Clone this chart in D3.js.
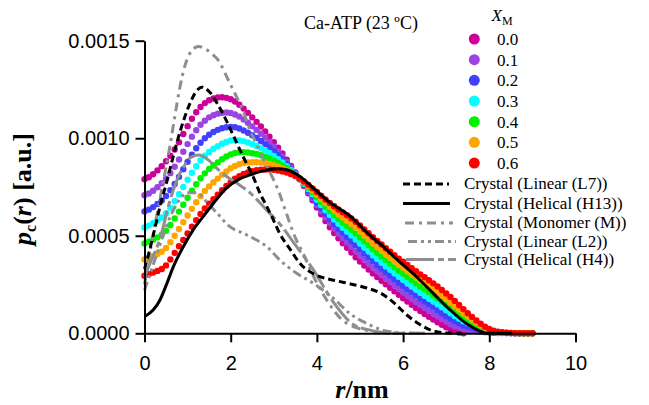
<!DOCTYPE html>
<html>
<head>
<meta charset="utf-8">
<script src="https://cdn.jsdelivr.net/npm/d3@7"></script>
<style>
  html, body { margin: 0; padding: 0; background: #fff; }
  svg { display: block; }
</style>
</head>
<body>
<svg id="chart" width="649" height="405"></svg>
<script>
// p_c(r) of Ca-ATP at 23 ºC for monomer fractions X_M = 0.0 ... 0.6,
// compared with profiles computed from crystal models.
// All p_c(r) values below are in units of 1e-6 (a.u.); r is in nm.

const rStep = 0.1;        // spacing of the sampled r grid (nm)
const yUnit = 1e-6;       // unit of the stored p_c values

const xmLabels = ["0.0", "0.1", "0.2", "0.3", "0.4", "0.5", "0.6"];

const xm00 = [790,800,815,835,857,882,910,942,980,1022,1062,1100,1133,1160,1180,1195,1204,1209,1210,1207,
  1200,1188,1172,1152,1130,1107,1084,1060,1035,1008,980,952,922,890,858,825,790,755,718,682,
  645,610,576,544,514,487,462,438,414,390,368,347,327,307,288,269,251,233,215,197,
  180,163,146,130,114,99,85,71,57,44,31,19,10,4,0];
const xm01 = [708,717,731,749,769,793,821,854,891,931,970,1008,1041,1069,1090,1107,1118,1126,1131,1132,
  1129,1122,1111,1096,1079,1061,1043,1023,1003,980,956,932,907,879,851,822,791,759,725,692,
  658,626,594,565,537,512,488,466,443,420,399,378,358,338,319,300,282,264,246,228,
  211,194,177,161,145,130,116,102,88,74,60,47,36,28,21,17,14,11,8,6,
  4,2,1,1,1,0,0,0,0,0,0];
const xm02 = [625,634,647,663,681,704,733,765,802,841,879,915,949,977,1000,1018,1032,1043,1051,1056,
  1058,1056,1050,1040,1028,1015,1001,986,970,952,933,913,891,868,844,819,791,763,732,702,
  671,642,613,585,560,536,515,494,472,451,430,409,389,369,350,331,313,295,277,259,
  242,225,209,193,177,162,147,133,118,103,89,75,62,51,41,34,28,22,16,11,
  7,4,3,2,1,1,0,0,0,0,0];
const xm03 = [543,552,564,578,594,615,644,677,713,750,787,823,857,886,910,930,946,959,972,981,
  988,990,989,985,978,969,960,950,938,924,909,893,876,857,837,815,792,767,740,713,
  685,658,631,606,583,561,541,521,502,481,460,440,420,400,381,362,343,326,308,290,
  274,257,240,224,208,193,179,164,149,133,118,103,88,75,62,52,42,33,25,17,
  11,7,4,3,2,1,1,0,0,0,0];
const xm04 = [460,469,480,492,506,526,555,589,624,659,695,731,764,795,820,842,860,876,892,906,
  917,924,928,929,927,923,919,913,905,896,885,873,861,846,830,812,792,770,747,723,
  698,673,649,627,605,586,567,549,531,511,491,471,451,431,411,393,374,356,338,321,
  305,288,271,255,239,224,210,194,179,163,146,130,114,98,83,69,56,44,33,23,
  15,9,5,3,2,1,1,0,0,0,0];
const xm05 = [378,386,396,406,418,437,467,500,535,569,604,638,672,703,730,753,774,793,813,830,
  846,858,867,873,876,877,877,876,873,868,862,854,845,835,823,809,793,774,754,733,
  711,689,668,647,628,610,594,577,560,542,522,502,482,462,442,424,405,387,369,352,
  336,319,303,287,271,256,241,225,210,192,175,158,140,122,103,86,70,55,41,28,
  18,11,7,4,3,2,1,0,0,0,0];
const xm06 = [295,303,312,320,330,348,378,412,446,478,512,546,580,612,640,665,688,710,733,755,
  775,792,806,817,825,831,836,839,840,840,838,834,830,824,816,806,793,778,761,743,
  724,705,686,668,651,635,620,605,589,572,553,533,513,493,473,455,436,418,400,383,
  367,350,334,318,302,287,272,256,240,222,204,186,166,145,124,103,84,66,49,34,
  22,13,8,5,3,2,1,0,0,0,0];
const xmSeries = [xm00, xm01, xm02, xm03, xm04, xm05, xm06];

// Crystal-model profiles: r (nm) and p_c (1e-6 a.u.)
const l7R = [0,0.1,0.2,0.36,0.52,0.67,0.82,1.02,1.17,1.33,1.52,1.71,1.9,2.1,2.29,2.52,2.68,2.84,2.99,3.14,
  3.38,3.6,3.92,4.23,4.54,4.88,5.16,5.46,5.77,6.08,6.39,6.7,7.0,7.36];
const l7P = [330,410,500,650,780,910,1030,1160,1230,1262,1235,1170,1090,995,905,803,718,649,581,510,
  430,360,305,280,265,248,232,208,160,95,45,12,2,0];

const h13R = [0,0.2,0.36,0.52,0.67,0.9,1.13,1.36,1.6,1.9,2.2,2.45,2.7,2.9,3.1,3.3,3.6,3.88,4.27,4.8,
  5.16,5.54,5.9,6.31,6.7,7.09,7.5,7.8,7.94,8.2,8.53];
const h13P = [85,119,171,256,342,444,530,598,667,744,790,812,830,840,843,838,805,752,676,596,
  516,444,370,290,205,120,45,10,0,0,0];

const monoR = [0,0.13,0.36,0.59,0.71,0.82,0.95,1.1,1.25,1.4,1.55,1.71,1.94,2.14,2.29,2.45,2.6,2.76,2.91,3.1,
  3.3,3.49,3.68,3.96,4.23,4.58,4.9,5.3,5.8,6.5];
const monoP = [250,420,690,960,1120,1260,1380,1450,1470,1460,1435,1400,1300,1210,1140,1040,970,890,825,735,
  610,495,410,275,170,70,30,10,0,0];

const l2R = [0,0.2,0.4,0.6,0.8,1.0,1.2,1.44,1.68,1.98,2.29,2.6,2.84,3.14,3.53,3.92,4.38,4.77,5.16,5.6,
  6.0,6.5];
const l2P = [220,350,480,600,680,720,720,675,617,547,513,478,444,376,308,256,180,100,50,12,
  2,0];

const h4R = [0,0.13,0.36,0.59,0.67,0.82,0.9,1.06,1.25,1.5,1.68,1.9,2.14,2.45,2.84,3.14,3.53,3.92,4.38,4.88,
  5.16,5.5,6.0];
const h4P = [290,360,485,680,735,820,850,900,914,885,845,805,770,720,630,560,444,325,160,40,
  20,5,0];

const crystalLabels = ["Crystal (Linear (L7))", "Crystal (Helical (H13))", "Crystal (Monomer (M))",
  "Crystal (Linear (L2))", "Crystal (Helical (H4))"];

const xTicks = [0, 2, 4, 6, 8, 10];
const yTicks = [0, 0.0005, 0.0010, 0.0015];
const yTickLabels = ["0.0000", "0.0005", "0.0010", "0.0015"];

// ---- styling ----
const xmColors = ["#cc0099", "#9a45e0", "#4040ff", "#00ffff", "#00f000", "#ffa500", "#ff0000"];
const gray = "#8e8e8e";
const crystalStyles = [
  { color: "#000", dash: "7,4" },
  { color: "#000", dash: null },
  { color: gray, dash: "9,5,3,5" },
  { color: gray, dash: "9,4,3,4,3,4" },
  { color: gray, dash: "28,4,6,4" }
];
const serif = "'Liberation Serif', 'Times New Roman', serif";
const sans = "'Liberation Sans', Arial, sans-serif";

const svg = d3.select("#chart");
const x = d3.scaleLinear().domain([0, 10]).range([144.5, 575.5]);
const y = d3.scaleLinear().domain([0, 0.0015]).range([333.3, 40.7]);

// dotted X_M series (0.0 drawn first, 0.6 on top)
const dotLayer = svg.append("g");
xmSeries.forEach((vals, k) => {
  dotLayer.append("g")
    .attr("fill", xmColors[k])
    .selectAll("circle")
    .data(vals)
    .join("circle")
    .attr("cx", (d, i) => x(i * rStep))
    .attr("cy", d => y(d * yUnit))
    .attr("r", 3.2);
});

// crystal-model curves
const crystals = [[l7R, l7P], [h13R, h13P], [monoR, monoP], [l2R, l2P], [h4R, h4P]];
const line = d3.line()
  .x(d => x(d[0]))
  .y(d => y(d[1] * yUnit))
  .curve(d3.curveMonotoneX);
const drawOrder = [4, 3, 2, 0, 1];
drawOrder.forEach(k => {
  const [rs, ps] = crystals[k];
  const pts = rs.map((rv, i) => [rv, ps[i]]);
  svg.append("path")
    .datum(pts)
    .attr("d", line)
    .attr("fill", "none")
    .attr("stroke", crystalStyles[k].color)
    .attr("stroke-width", 3)
    .attr("stroke-dasharray", crystalStyles[k].dash)
    .attr("stroke-linecap", "butt");
});

// axes
const xAxis = svg.append("g")
  .attr("transform", `translate(0,${y(0)})`)
  .call(d3.axisBottom(x).tickValues(xTicks).tickSize(9).tickSizeOuter(0).tickPadding(11)
    .tickFormat(d3.format("d")));
const yAxis = svg.append("g")
  .attr("transform", `translate(${x(0)},0)`)
  .call(d3.axisLeft(y).tickValues(yTicks).tickSize(9).tickSizeOuter(0).tickPadding(6)
    .tickFormat((d, i) => yTickLabels[i]));
[xAxis, yAxis].forEach(g => {
  g.select(".domain").attr("stroke", "#000").attr("stroke-width", 2);
  g.selectAll(".tick line").attr("stroke", "#000").attr("stroke-width", 2);
  g.selectAll(".tick text").attr("fill", "#000")
    .style("font-family", sans).style("font-size", "20px");
});
xAxis.selectAll(".tick text").attr("dy", "0.85em");

// title
svg.append("text")
  .attr("x", 361).attr("y", 29)
  .attr("text-anchor", "middle")
  .style("font-family", serif).style("font-size", "18px")
  .text("Ca-ATP (23 ºC)");

// axis titles
const xt = svg.append("text")
  .attr("x", 362).attr("y", 398)
  .attr("text-anchor", "middle")
  .style("font-family", serif).style("font-size", "26px").style("font-weight", "bold");
xt.append("tspan").style("font-style", "italic").text("r");
xt.append("tspan").text("/nm");

const yt = svg.append("text")
  .attr("transform", "translate(31,189) rotate(-90)")
  .attr("text-anchor", "middle")
  .style("font-family", serif).style("font-size", "26px").style("font-weight", "bold");
yt.append("tspan").style("font-style", "italic").text("p");
yt.append("tspan").attr("dy", 5).style("font-size", "16px").text("c");
yt.append("tspan").attr("dy", -5).text("(");
yt.append("tspan").style("font-style", "italic").text("r");
yt.append("tspan").text(") [a.u.]");

// X_M legend
const xmTitle = svg.append("text")
  .attr("x", 491.5).attr("y", 21)
  .style("font-family", serif).style("font-size", "17px");
xmTitle.append("tspan").style("font-style", "italic").text("X");
xmTitle.append("tspan").attr("dy", 4).style("font-size", "12px").text("M");

const xmLeg = svg.append("g").selectAll("g")
  .data(xmLabels)
  .join("g")
  .attr("transform", (d, i) => `translate(474.3,${39 + i * 20.67})`);
xmLeg.append("circle").attr("r", 5.5).attr("fill", (d, i) => xmColors[i]);
xmLeg.append("text")
  .attr("x", 22.7).attr("y", 6)
  .style("font-family", serif).style("font-size", "17px")
  .text(d => d);

// crystal legend
const rowY = [184, 203.5, 223, 241.5, 259.5];
const cLeg = svg.append("g").selectAll("g")
  .data(crystalLabels)
  .join("g")
  .attr("transform", (d, i) => `translate(0,${rowY[i]})`);
cLeg.append("line")
  .attr("x1", (d, i) => [403, 403, 405, 408, 406][i])
  .attr("x2", (d, i) => [449, 450, 453, 456, 456][i])
  .attr("stroke", (d, i) => crystalStyles[i].color)
  .attr("stroke-width", 3)
  .attr("stroke-dasharray", (d, i) => crystalStyles[i].dash);
cLeg.append("text")
  .attr("x", 464).attr("y", 5)
  .style("font-family", serif).style("font-size", "17px")
  .text(d => d);
</script>
</body>
</html>
